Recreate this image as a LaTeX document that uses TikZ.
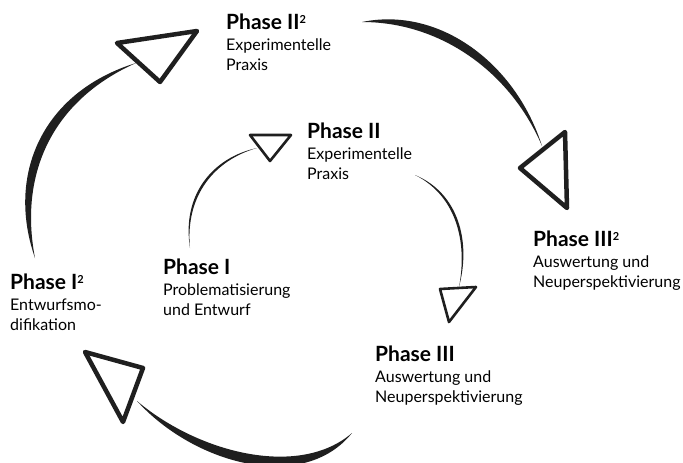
\documentclass[tikz,border=0pt]{standalone}
\usepackage{fontspec}
\setmainfont{Lato}
\newcommand{\phasehead}[1]{{\fontsize{21}{21}\selectfont\bfseries #1}}
\newcommand{\sq}{\raisebox{6.5pt}{\fontsize{11}{11}\selectfont 2}}

\begin{document}
\begin{tikzpicture}[
        x=1pt, y=-1pt,
        brush/.style={fill=black!88},
        bighead/.style={draw=black!88, line width=4.5pt, line join=round},
        smallhead/.style={draw=black!88, line width=2.6pt, line join=round},
        phase/.style={
            anchor=north west,
            inner sep=0pt,
            align=left,
            font=\fontsize{16}{20.5}\selectfont
        }
    ]
    \useasboundingbox (0,0) rectangle (683,463);

    % labels
    \node[phase] (pIIsq) at (226,14) {\phasehead{Phase II\sq}\\Experimentelle\\Praxis};
    \node[phase] (pII) at (307,123) {\phasehead{Phase II}\\Experimentelle\\Praxis};
    \node[phase] (pIIIsq) at (533,231) {\phasehead{Phase III\sq}\\Auswertung und\\Neuperspektivierung};
    \node[phase] (pIsq) at (10,274) {\phasehead{Phase I\sq}\\Entwurfsmo-\\difikation};
    \node[phase] (pI) at (163,259) {\phasehead{Phase I}\\Problematisierung\\und Entwurf};
    \node[phase] (pIII) at (375,346) {\phasehead{Phase III}\\Auswertung und\\Neuperspektivierung};

    % stroke ends
    \coordinate (outA1) at (35,258);
    \coordinate (outA2) at (136,63);
    \coordinate (outB1) at (362,22);
    \coordinate (outB2) at (542,146);
    \coordinate (outC1) at (352,433);
    \coordinate (outC2) at (137,401);
    \coordinate (inA1) at (190,248);
    \coordinate (inA2) at (257,148);
    \coordinate (inB1) at (415,175);
    \coordinate (inB2) at (459,287);

    % outer cycle
    \fill[brush] (outA1) .. controls (19,175) and (51,101) .. (outA2)
        .. controls (42,92) and (6,175) .. (outA1) -- cycle;
    \draw[bighead] (117,43) -- (197,31) -- (160,82) -- cycle;

    \fill[brush] (outB1) .. controls (440,22) and (510,71) .. (outB2)
        .. controls (516,64) and (440,6) .. (outB1) -- cycle;
    \draw[bighead] (520,168) -- (565,132) -- (567,208) -- cycle;

    \fill[brush] (outC1) .. controls (300,478) and (200,454) .. (outC2)
        .. controls (194,464) and (303,494) .. (outC1) -- cycle;
    \draw[bighead] (85,352) -- (143,368) -- (123,422) -- cycle;

    % inner cycle
    \fill[brush] (inA1) .. controls (185,195) and (215,160) .. (inA2)
        .. controls (212.5,157.5) and (181.5,195) .. (inA1) -- cycle;
    \draw[smallhead] (250,135) -- (291,135) -- (270,161) -- cycle;

    \fill[brush] (inB1) .. controls (455,195) and (468,240) .. (inB2)
        .. controls (471.5,240) and (457.5,192.5) .. (inB1) -- cycle;
    \draw[smallhead] (440,289) -- (476,287) -- (449,322) -- cycle;
\end{tikzpicture}
\end{document}
